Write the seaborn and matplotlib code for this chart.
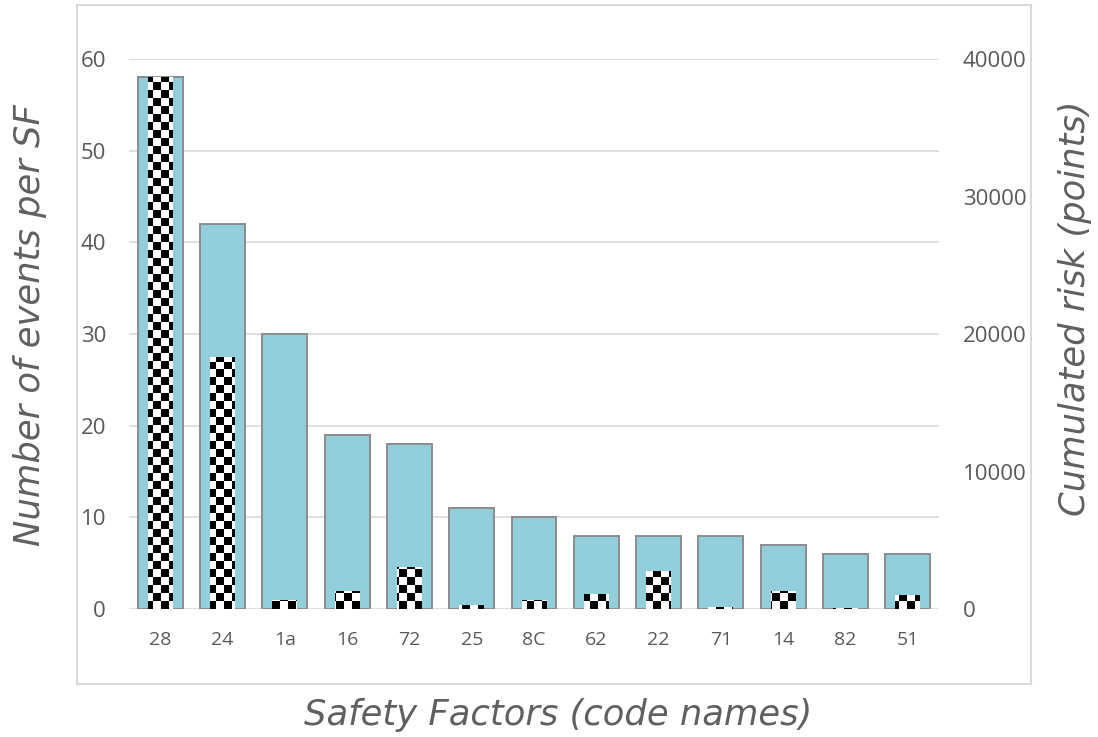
import numpy as np
import pandas as pd
import matplotlib
matplotlib.use("Agg")
import matplotlib.pyplot as plt
import seaborn as sns
from matplotlib.patches import Rectangle

# ---- data ----
categories = ["28", "24", "1a", "16", "72", "25", "8C", "62", "22", "71", "14", "82", "51"]
events = [58, 42, 30, 19, 18, 11, 10, 8, 8, 8, 7, 6, 6]
cum_risk = [38700, 18300, 650, 1300, 3050, 300, 650, 1090, 2760, 150, 1300, 40, 1000]
left_ticks = [0, 10, 20, 30, 40, 50, 60]
right_ticks = [0, 10000, 20000, 30000, 40000]

df = pd.DataFrame({"cat": categories, "events": events, "risk": cum_risk})

sns.set_theme(style="white")
plt.rcParams["font.family"] = ["Open Sans", "DejaVu Sans"]

W, H = 1098, 737
fig = plt.figure(figsize=(W / 100, H / 100), dpi=100)
ax = fig.add_axes([129 / W, 1 - 609 / H, (939 - 129) / W, (609 - 59) / H])

tick_col = "#595959"
label_col = "#606060"
label_font = dict(fontsize=25.5, style="italic", color=label_col, family=["DejaVu Sans"])

sns.barplot(data=df, x="cat", y="events", ax=ax, color="#92CDDC", saturation=1,
            width=0.72, edgecolor="#8c8c8c", linewidth=1.4, zorder=2)
ax.set_ylim(0, 60)
ax.set_yticks(left_ticks)
ax.yaxis.grid(True, color="#d9d9d9", linewidth=1.2, zorder=0)
ax.set_axisbelow(True)
for s in ax.spines.values():
    s.set_visible(False)
ax.tick_params(axis="y", length=0, pad=16.5, labelsize=16, labelcolor=tick_col)
ax.tick_params(axis="x", length=0, pad=16, labelsize=14, labelcolor=tick_col)
ax.set_xlabel("Safety Factors (code names)", **label_font)
ax.set_ylabel("Number of events per SF", **label_font)
ax.xaxis.label.set_verticalalignment("center")
ax.xaxis.set_label_coords(0.53, -0.193)
ax.yaxis.label.set_verticalalignment("center")
ax.yaxis.set_label_coords(-0.122, 0.516)

ax2 = ax.twinx()
sns.barplot(data=df, x="cat", y="risk", ax=ax2, color="white", saturation=1,
            width=0.40, linewidth=0, zorder=3)
ax2.set_ylim(0, 40000)
ax2.set_yticks(right_ticks)
for s in ax2.spines.values():
    s.set_visible(False)
ax2.tick_params(axis="y", length=0, pad=17, labelsize=16, labelcolor=tick_col)
ax2.set_ylabel("Cumulated risk (points)", **label_font)
ax2.yaxis.label.set_verticalalignment("center")
ax2.yaxis.set_label_coords(1.168, 0.547)
ax2.grid(False)

# checkerboard fill clipped to the inner bars
nx, ny = 102, 69
iy, ix = np.indices((ny, nx))
checker = ((ix + iy) % 2).astype(float)
xl = ax2.get_xlim()
for p in list(ax2.patches):
    im = ax2.imshow(checker, cmap="gray", vmin=0, vmax=1, interpolation="nearest",
                    extent=[0, 1, 0, 1], transform=ax2.transAxes, aspect="auto",
                    zorder=4)
    im.set_clip_path(p)
ax2.set_xlim(xl)
ax2.set_ylim(0, 40000)

# outer chart border
fig.patches.append(Rectangle((77 / W, 1 - 684 / H), (1031 - 77) / W, (684 - 5) / H,
                             transform=fig.transFigure, fill=False,
                             edgecolor="#d9d9d9", linewidth=1.5))

fig.savefig("out.png", dpi=100)
